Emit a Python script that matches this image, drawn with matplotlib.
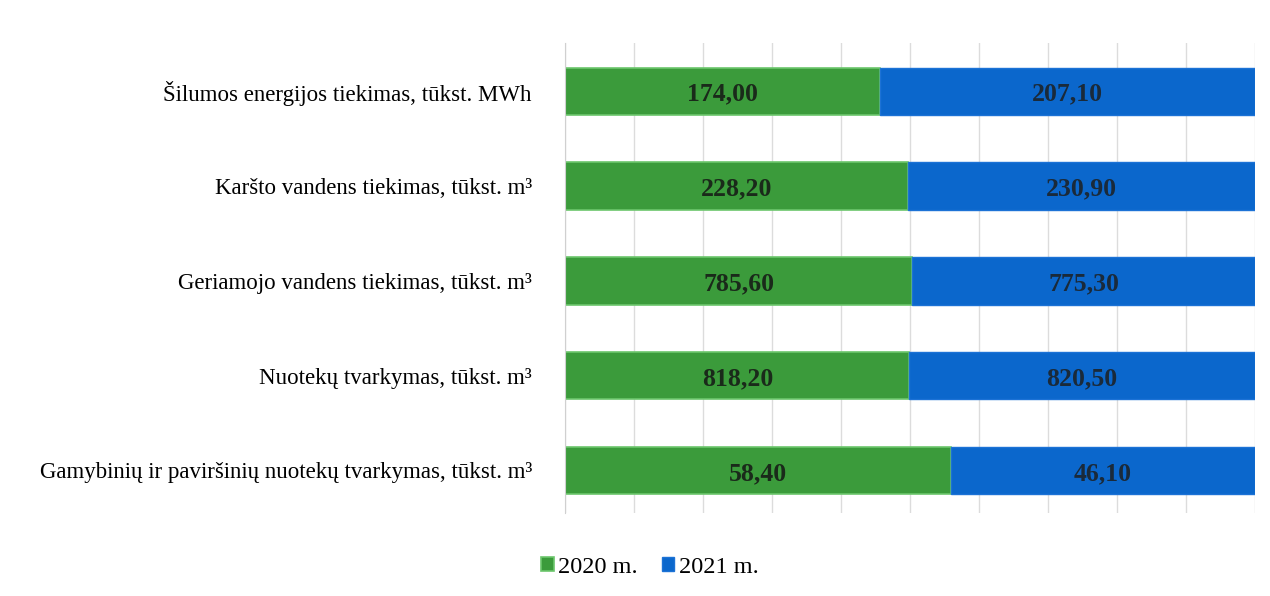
import matplotlib.pyplot as plt
import numpy as np

categories = [
    'Šilumos energijos tiekimas, tūkst. MWh',
    'Karšto vandens tiekimas, tūkst. m³',
    'Geriamojo vandens tiekimas, tūkst. m³',
    'Nuotekų tvarkymas, tūkst. m³',
    'Gamybinių ir paviršinių nuotekų tvarkymas, tūkst. m³',
]
values_2020 = [174.00, 228.20, 785.60, 818.20, 58.40]
values_2021 = [207.10, 230.90, 775.30, 820.50, 46.10]
labels_2020 = ['174,00', '228,20', '785,60', '818,20', '58,40']
labels_2021 = ['207,10', '230,90', '775,30', '820,50', '46,10']

plt.rcParams['font.family'] = ['Liberation Serif', 'DejaVu Serif']

v20 = np.array(values_2020)
v21 = np.array(values_2021)
total = v20 + v21
share20 = v20 / total * 100
share21 = v21 / total * 100

fig = plt.figure(figsize=(12.7, 5.96), dpi=100)
ax = fig.add_axes([0.445, 0.139, 0.543, 0.789])

y = np.arange(len(categories))[::-1]
green = '#3b9b3b'
blue = '#0b67cc'
b1 = ax.barh(y, share20, height=0.5, color=green, edgecolor='#6cc66c', linewidth=1.2, label='2020 m.')
b2 = ax.barh(y, share21, left=share20, height=0.5, color=blue, edgecolor='#1c72d6', linewidth=1.0, label='2021 m.')

# value labels sit a touch below the bar centre, as in the scan
for i in range(len(categories)):
    ax.text(share20[i] / 2, y[i] - 0.03, labels_2020[i], ha='center', va='center',
            fontsize=18.5, fontweight='bold', color='#1a2a1a')
    ax.text(share20[i] + share21[i] / 2, y[i] - 0.03, labels_2021[i], ha='center', va='center',
            fontsize=18.5, fontweight='bold', color='#1a2a3a')

ax.set_xlim(0, 100)
ax.set_ylim(-0.45, 4.51)
ax.set_xticks(np.arange(0, 101, 10))
ax.set_xticklabels([])
ax.tick_params(axis='x', length=0)
ax.tick_params(axis='y', length=0, pad=24)
ax.set_yticks(y)
ax.set_yticklabels(categories, fontsize=16.5)
ax.grid(axis='x', color='#dcdcdc', linewidth=1)
ax.set_axisbelow(True)
for s in ['top', 'right', 'bottom']:
    ax.spines[s].set_visible(False)
ax.spines['left'].set_color('#d0d0d0')

fig.legend(handles=[b1, b2], loc='center', bbox_to_anchor=(0.512, 0.048), ncol=2,
           frameon=False, fontsize=17.5, handlelength=0.5, handleheight=0.5,
           handletextpad=0.2, columnspacing=1.0)

fig.savefig('out.png', dpi=100)
